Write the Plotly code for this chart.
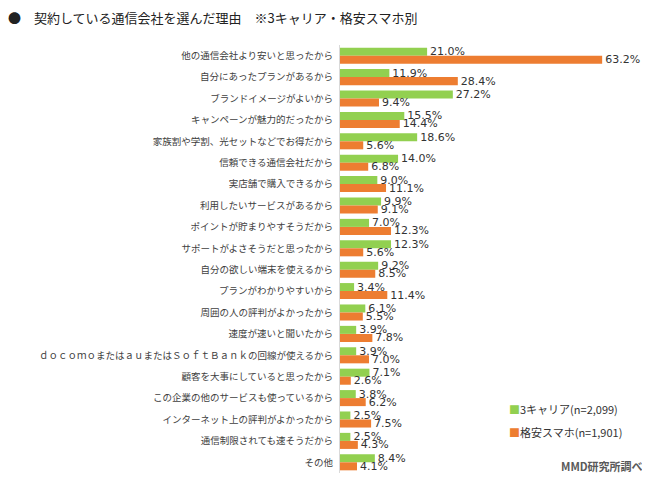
import plotly.graph_objects as go

categories = [
    "他の通信会社より安いと思ったから",
    "自分にあったプランがあるから",
    "ブランドイメージがよいから",
    "キャンペーンが魅力的だったから",
    "家族割や学割、光セットなどでお得だから",
    "信頼できる通信会社だから",
    "実店舗で購入できるから",
    "利用したいサービスがあるから",
    "ポイントが貯まりやすそうだから",
    "サポートがよさそうだと思ったから",
    "自分の欲しい端末を使えるから",
    "プランがわかりやすいから",
    "周囲の人の評判がよかったから",
    "速度が速いと聞いたから",
    "ｄｏｃｏｍｏまたはａｕまたはＳｏｆｔＢａｎｋの回線が使えるから",
    "顧客を大事にしていると思ったから",
    "この企業の他のサービスも使っているから",
    "インターネット上の評判がよかったから",
    "通信制限されても速そうだから",
    "その他",
]
carrier3 = [21.0, 11.9, 27.2, 15.5, 18.6, 14.0, 9.0, 9.9, 7.0, 12.3, 9.2, 3.4, 6.1, 3.9, 3.9, 7.1, 3.8, 2.5, 2.5, 8.4]
kakuyasu = [63.2, 28.4, 9.4, 14.4, 5.6, 6.8, 11.1, 9.1, 12.3, 5.6, 8.5, 11.4, 5.5, 7.8, 7.0, 2.6, 6.2, 7.5, 4.3, 4.1]
series_names = ["3キャリア(n=2,099)", "格安スマホ(n=1,901)"]
colors = ["#92D050", "#ED7D31"]

FONT = "Noto Sans CJK JP, Noto Sans, sans-serif"

W, H = 642, 478
L, R, T, B = 332, 30, 37, 13
PW, PH = W - L - R, H - T - B

fig = go.Figure()
for name, vals, col in zip(series_names, [carrier3, kakuyasu], colors):
    fig.add_trace(go.Bar(
        y=categories, x=vals, name=name, orientation="h",
        marker=dict(color=col, line=dict(width=0)),
        texttemplate="%{x:.1f}%", textposition="outside",
        constraintext="none",
        textfont=dict(size=11, color="#333333", family="DejaVu Sans, sans-serif"),
        cliponaxis=False,
    ))

def px_to_paper(xp, yp):
    return (xp - L) / PW, (H - B - yp) / PH

annotations = []
for i, (name, col) in enumerate(zip(series_names, colors)):
    ax, ay = px_to_paper(499, 401 + 23 * i)
    annotations.append(dict(
        text=f"<span style='color:{col}'>■</span>{name}",
        xref="paper", yref="paper", x=ax, y=ay, xanchor="left", yanchor="middle",
        showarrow=False, font=dict(size=11, color="#333333", family=FONT)))
fx, fy = px_to_paper(637, 458)
annotations.append(dict(text="<b>MMD研究所調べ</b>", xref="paper", yref="paper",
                        x=fx, y=fy, xanchor="right", yanchor="middle", showarrow=False,
                        font=dict(size=11, color="#595959", family=FONT)))

fig.update_layout(
    width=W, height=H,
    margin=dict(l=L, r=R, t=T, b=B, autoexpand=False),
    paper_bgcolor="white", plot_bgcolor="white",
    barmode="group", bargap=0.25, bargroupgap=0,
    font=dict(family=FONT, size=10, color="#404040"),
    title=dict(text="●　契約している通信会社を選んだ理由　※3キャリア・格安スマホ別",
               x=0.0, xanchor="left", y=1 - 10 / H, yanchor="middle",
               font=dict(size=13, color="#222222", family=FONT)),
    xaxis=dict(range=[0, 67.5], visible=False, showgrid=False, automargin=False),
    yaxis=dict(autorange="reversed", showline=True, linecolor="#d9d9d9", linewidth=1,
               ticks="", automargin=False,
               tickfont=dict(size=9.5, color="#404040", family=FONT),
               ticklabelstandoff=4),
    showlegend=False,
    annotations=annotations,
)

fig.write_html("out.html")
